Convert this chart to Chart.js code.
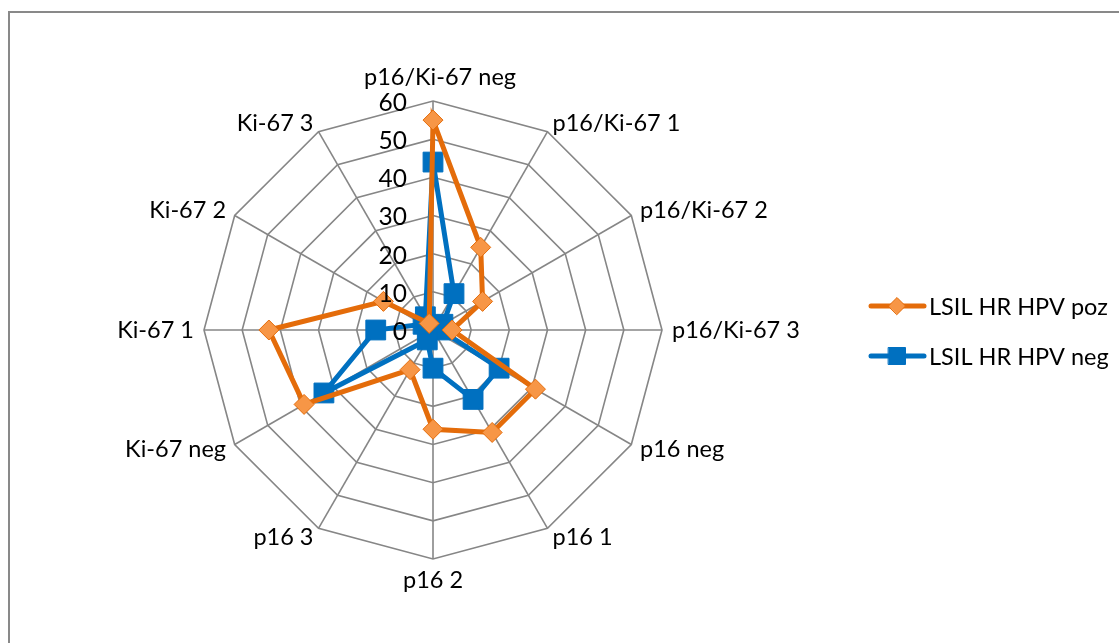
<!DOCTYPE html>
<html>
<head>
<meta charset="utf-8">
<script src="https://cdn.jsdelivr.net/npm/chart.js@4.4.1/dist/chart.umd.min.js"></script>
<style>
  html, body { margin: 0; padding: 0; background: #fff; }
  #wrap { position: relative; width: 1119px; height: 643px; overflow: hidden; }
  #frame { position: absolute; left: 8px; top: 11px; width: 1200px; height: 700px;
           border: 2px solid #898989; box-sizing: border-box; }
  #chart { position: absolute; left: 0; top: 0; }
</style>
</head>
<body>
<div id="wrap">
  <div id="frame"></div>
  <canvas id="chart" width="1119" height="643"></canvas>
</div>
<script>
const categories = [
  "p16/Ki-67 neg", "p16/Ki-67 1", "p16/Ki-67 2", "p16/Ki-67 3",
  "p16 neg", "p16 1", "p16 2", "p16 3",
  "Ki-67 neg", "Ki-67 1", "Ki-67 2", "Ki-67 3"
];
const seriesNames = ["LSIL HR HPV poz", "LSIL HR HPV neg"];
const hpvPoz = [55, 25, 15, 5, 31, 31, 26, 12, 39, 43, 15, 2];
const hpvNeg = [44, 11, 3, 2, 20, 21, 10, 3, 33, 15, 3, 4];
const tickValues = [0, 10, 20, 30, 40, 50, 60];

const FONT = "Lato, 'Open Sans', sans-serif";
const ORANGE = "#E46C0A";
const ORANGE_FILL = "#F79646";
const BLUE = "#0070C0";
const GRID = "#868686";

// draws category labels, tick labels and legend the way Excel places them
const excelLook = {
  id: "excelLook",
  afterDraw(chart) {
    const ctx = chart.ctx;
    const scale = chart.scales.r;
    const cx = scale.xCenter, cy = scale.yCenter;
    const outer = scale.getDistanceFromCenterForValue(60);
    ctx.save();
    ctx.fillStyle = "#000";
    ctx.font = "23.5px " + FONT;

    // category labels
    categories.forEach((label, i) => {
      const ang = i * Math.PI * 2 / categories.length;
      const sx = Math.sin(ang), cyDir = -Math.cos(ang);
      const p = scale.getPointPosition(i, outer + 10);
      let x = p.x, y = p.y;
      if (Math.abs(sx) < 0.01) {
        ctx.textAlign = "center";
        if (cyDir < 0) { ctx.textBaseline = "bottom"; y -= 2; x += 7; }
        else { ctx.textBaseline = "top"; }
      } else {
        ctx.textAlign = sx > 0 ? "left" : "right";
        ctx.textBaseline = "middle";
      }
      ctx.fillText(label, x, y);
    });

    // value labels along the top spoke
    ctx.font = "24.5px " + FONT;
    ctx.textAlign = "right";
    ctx.textBaseline = "middle";
    tickValues.forEach(v => {
      const d = scale.getDistanceFromCenterForValue(v);
      ctx.fillText(String(v), cx - 26, cy - d + 2);
    });

    // legend
    const items = [
      { text: seriesNames[0], color: ORANGE, fill: ORANGE_FILL, style: "rectRot", r: 8.5, y: 306 },
      { text: seriesNames[1], color: BLUE, fill: BLUE, style: "rect", r: 12, y: 356 }
    ];
    ctx.font = "23.5px " + FONT;
    ctx.textAlign = "left";
    items.forEach(it => {
      ctx.strokeStyle = it.color;
      ctx.lineWidth = 5;
      ctx.lineCap = "round";
      ctx.beginPath();
      ctx.moveTo(871, it.y);
      ctx.lineTo(924, it.y);
      ctx.stroke();
      ctx.fillStyle = it.fill;
      ctx.strokeStyle = it.color;
      ctx.lineWidth = 1;
      Chart.helpers.drawPoint(ctx, { pointStyle: it.style, radius: it.r, borderWidth: 1, rotation: 0 }, 897, it.y);
      ctx.fillStyle = "#000";
      ctx.fillText(it.text, 929, it.y + 1);
    });
    ctx.restore();
  }
};

new Chart(document.getElementById("chart"), {
  type: "radar",
  data: {
    labels: categories,
    datasets: [
      {
        label: seriesNames[0],
        data: hpvPoz,
        borderColor: ORANGE,
        borderWidth: 5,
        backgroundColor: "transparent",
        fill: false,
        pointStyle: "rectRot",
        pointRadius: 10,
        pointBackgroundColor: ORANGE_FILL,
        pointBorderColor: ORANGE,
        pointBorderWidth: 1
      },
      {
        label: seriesNames[1],
        data: hpvNeg,
        borderColor: BLUE,
        borderWidth: 5,
        backgroundColor: "transparent",
        fill: false,
        pointStyle: "rect",
        pointRadius: 14,
        pointBackgroundColor: BLUE,
        pointBorderColor: BLUE,
        pointBorderWidth: 1
      }
    ]
  },
  options: {
    responsive: false,
    animation: false,
    events: [],
    layout: { padding: { left: 204, top: 101, right: 457, bottom: 84 } },
    plugins: { legend: { display: false }, tooltip: { enabled: false } },
    elements: { line: { tension: 0 } },
    scales: {
      r: {
        min: 0,
        max: 60,
        ticks: { stepSize: 10, display: false },
        pointLabels: { display: false },
        grid: { color: GRID, lineWidth: 1.6 },
        angleLines: { color: GRID, lineWidth: 1.6 }
      }
    }
  },
  plugins: [excelLook]
});
</script>
</body>
</html>
